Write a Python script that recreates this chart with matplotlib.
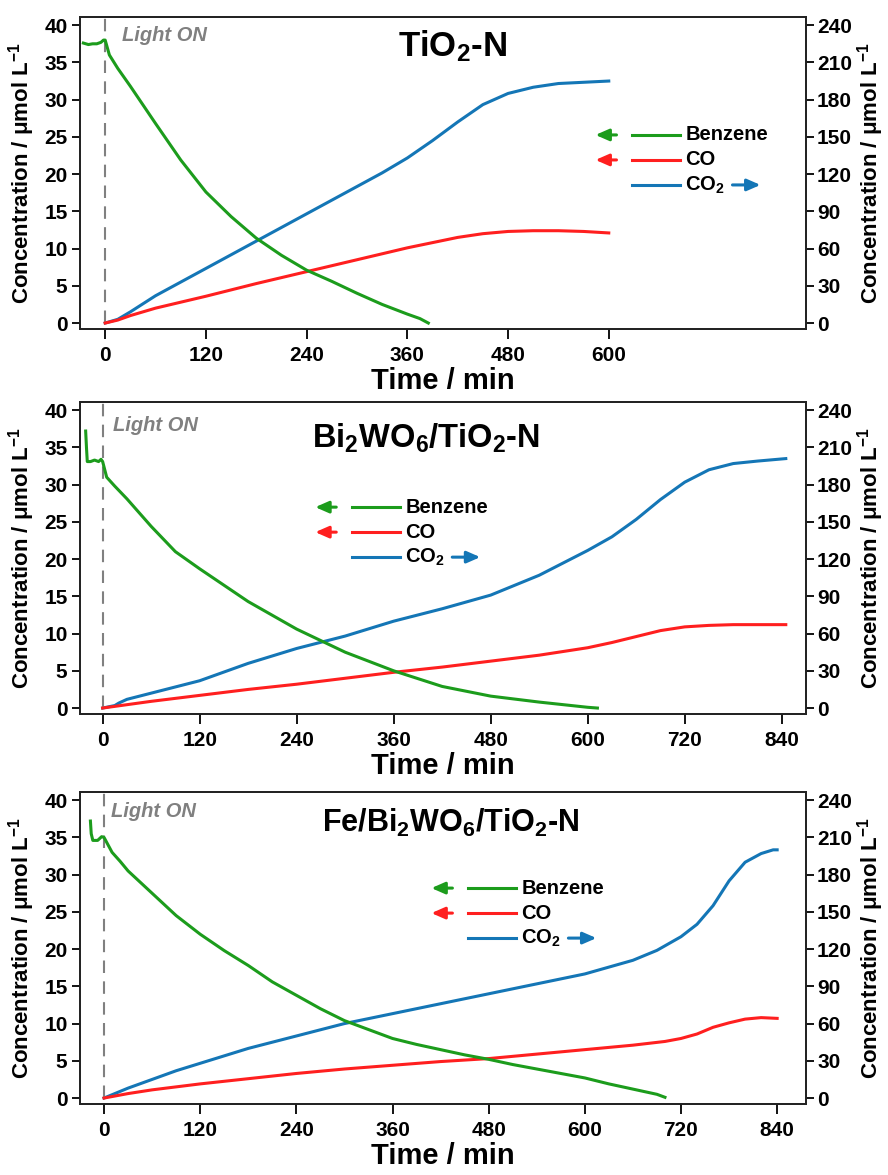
import matplotlib
matplotlib.use("Agg")
import matplotlib.pyplot as plt
import numpy as np

plt.rcParams['font.family'] = ['Liberation Sans', 'DejaVu Sans']
plt.rcParams['font.weight'] = 'bold'
plt.rcParams['mathtext.fontset'] = 'custom'
plt.rcParams['mathtext.bf'] = 'Liberation Sans:bold'
plt.rcParams['mathtext.rm'] = 'Liberation Sans:bold'
plt.rcParams['mathtext.it'] = 'Liberation Sans:bold:italic'
plt.rcParams['mathtext.default'] = 'bf'

# ---------------- data ----------------
titles = [r'TiO$_2$-N', r'Bi$_2$WO$_6$/TiO$_2$-N', r'Fe/Bi$_2$WO$_6$/TiO$_2$-N']

# Panel 1: TiO2-N
p1_benz_t = [-26, -20, -15, -10, -5, -2, 0, 5, 15, 30, 60, 90, 120, 150, 180, 210, 240, 270, 300, 330, 360, 375, 385]
p1_benz_c = [37.6, 37.4, 37.5, 37.5, 37.7, 38.0, 38.0, 36.0, 34.2, 31.8, 26.8, 21.9, 17.6, 14.3, 11.4, 9.1, 7.1, 5.6, 4.0, 2.5, 1.2, 0.6, 0.0]
p1_co_t = [0, 15, 30, 60, 90, 120, 180, 240, 300, 360, 420, 450, 480, 510, 540, 570, 600]
p1_co_c = [0.0, 0.4, 1.0, 2.0, 2.8, 3.6, 5.3, 6.9, 8.5, 10.1, 11.5, 12.0, 12.3, 12.4, 12.4, 12.3, 12.1]
p1_co2_t = [0, 15, 30, 60, 90, 120, 150, 180, 210, 240, 270, 300, 330, 360, 390, 420, 450, 480, 510, 540, 570, 600]
p1_co2_c = [0, 3, 9, 22, 33, 44, 55, 66, 77, 88, 99, 110, 121, 133, 147, 162, 176, 185, 190, 193, 194, 195]

# Panel 2: Bi2WO6/TiO2-N
p2_benz_t = [-21, -20, -19, -15, -10, -5, -2, 0, 5, 15, 30, 60, 90, 120, 180, 240, 300, 360, 420, 480, 540, 600, 612]
p2_benz_c = [37.2, 35.0, 33.1, 33.1, 33.3, 33.1, 33.4, 33.1, 31.0, 29.8, 28.1, 24.4, 21.0, 18.7, 14.3, 10.6, 7.5, 5.0, 2.9, 1.6, 0.8, 0.1, 0.0]
p2_co_t = [0, 60, 120, 180, 240, 300, 360, 420, 480, 540, 600, 630, 660, 690, 720, 750, 780, 840, 845]
p2_co_c = [0.0, 0.9, 1.7, 2.5, 3.2, 4.0, 4.8, 5.5, 6.3, 7.1, 8.1, 8.8, 9.6, 10.4, 10.9, 11.1, 11.2, 11.2, 11.2]
p2_co2_t = [0, 15, 20, 30, 60, 90, 120, 150, 180, 240, 300, 360, 420, 480, 540, 600, 630, 660, 690, 720, 750, 780, 810, 845]
p2_co2_c = [0, 2, 4, 7, 12, 17, 22, 29, 36, 48, 58, 70, 80, 91, 107, 127, 138, 152, 168, 182, 192, 197, 199, 201]

# Panel 3: Fe/Bi2WO6/TiO2-N
p3_benz_t = [-17, -16, -14, -8, -3, 0, 10, 20, 30, 60, 90, 120, 150, 180, 210, 240, 270, 300, 330, 360, 390, 420, 450, 480, 510, 540, 570, 600, 630, 660, 690, 700]
p3_benz_c = [37.2, 35.5, 34.6, 34.6, 35.1, 35.0, 33.0, 31.8, 30.5, 27.5, 24.5, 22.0, 19.8, 17.8, 15.6, 13.8, 12.0, 10.4, 9.2, 8.0, 7.2, 6.5, 5.8, 5.2, 4.5, 3.9, 3.3, 2.7, 1.9, 1.2, 0.5, 0.1]
p3_co_t = [0, 30, 60, 120, 180, 240, 300, 360, 420, 480, 540, 600, 660, 700, 720, 740, 760, 780, 800, 820, 840]
p3_co_c = [0.0, 0.6, 1.1, 1.9, 2.6, 3.3, 3.9, 4.4, 4.9, 5.3, 5.9, 6.5, 7.1, 7.6, 8.0, 8.6, 9.5, 10.1, 10.6, 10.8, 10.7]
p3_co2_t = [0, 30, 60, 90, 120, 180, 240, 300, 360, 420, 480, 540, 600, 660, 690, 720, 740, 760, 780, 800, 820, 835, 840]
p3_co2_c = [0, 8, 15, 22, 28, 40, 50, 60, 68, 76, 84, 92, 100, 111, 119, 130, 140, 155, 175, 190, 197, 200, 200]

x_ticks = [[0, 120, 240, 360, 480, 600], [0, 120, 240, 360, 480, 600, 720, 840], [0, 120, 240, 360, 480, 600, 720, 840]]
x_lims = [(-30, 835), (-28, 870), (-30, 876)]
left_ticks = [0, 5, 10, 15, 20, 25, 30, 35, 40]
right_ticks = [0, 30, 60, 90, 120, 150, 180, 210, 240]
legend_labels = ['Benzene', 'CO', r'CO$_2$']

panels = [
    (p1_benz_t, p1_benz_c, p1_co_t, p1_co_c, p1_co2_t, p1_co2_c),
    (p2_benz_t, p2_benz_c, p2_co_t, p2_co_c, p2_co2_t, p2_co2_c),
    (p3_benz_t, p3_benz_c, p3_co_t, p3_co_c, p3_co2_t, p3_co2_c),
]

# ---------------- style ----------------
GREEN = '#1c9c1c'
RED = '#ff1f1f'
BLUE = '#1476b6'
GRAY = '#808080'

W, H = 888, 1175
fig = plt.figure(figsize=(W / 100, H / 100), dpi=100)

ax_left_px, ax_right_px = 80, 806
ax_tops = [17, 402, 792]
ax_h_px = 312
title_pos = [(0.513, 0.905), (0.476, 0.885), (0.51, 0.902)]
title_size = [25, 23.5, 22]
light_pos = [(0.058, 0.942), (0.046, 0.926), (0.043, 0.936)]
legend_pos = [(0.761, 0.622), (0.375, 0.663), (0.535, 0.692)]

ylim_l = (-0.8, 41.1)
ylim_r = (ylim_l[0] * 6, ylim_l[1] * 6)

ax_w_px = ax_right_px - ax_left_px

def fx(px):
    return px / ax_w_px

def fy(px):
    return px / ax_h_px

for i, (bt, bc, ct, cc, dt, dc) in enumerate(panels):
    top = ax_tops[i]
    ax = fig.add_axes([ax_left_px / W, 1 - (top + ax_h_px) / H, ax_w_px / W, ax_h_px / H])
    ax2 = ax.twinx()
    ax.set_zorder(ax2.get_zorder() + 1)
    ax.patch.set_visible(False)

    ax.plot([0, 0], [0, ylim_l[1]], color=GRAY, lw=1.5, ls=(0, (6, 4)), zorder=1)
    ax2.plot(dt, dc, color=BLUE, lw=2.2)
    ax.plot(ct, cc, color=RED, lw=2.2, zorder=3)
    ax.plot(bt, bc, color=GREEN, lw=2.2, zorder=4)

    ax.set_xlim(*x_lims[i])
    ax.set_ylim(*ylim_l)
    ax2.set_ylim(*ylim_r)
    ax.set_xticks(x_ticks[i])
    ax.set_yticks(left_ticks)
    ax2.set_yticks(right_ticks)

    for a in (ax, ax2):
        for s in a.spines.values():
            s.set_linewidth(1.3)
            s.set_color('#222222')
        a.tick_params(direction='out', length=6, width=1.3, labelsize=15, pad=3)
    ax2.tick_params(axis='y', pad=2)
    ax.tick_params(axis='x', length=7, pad=5)
    for lab in ax.get_xticklabels() + ax.get_yticklabels() + ax2.get_yticklabels():
        lab.set_fontweight('bold')

    ax.set_xlabel('Time / min', fontsize=21, fontweight='bold', labelpad=2)
    ylab = r'Concentration / μmol L$^{-1}$'
    ax.set_ylabel(ylab, fontsize=16, fontweight='bold', labelpad=5)
    ax2.set_ylabel(ylab, fontsize=16, fontweight='bold', labelpad=2, rotation=90)

    ax.text(title_pos[i][0], title_pos[i][1], titles[i], transform=ax.transAxes,
            fontsize=title_size[i], fontweight='bold', ha='center', va='center')
    ax.text(light_pos[i][0], light_pos[i][1], 'Light ON', transform=ax.transAxes,
            fontsize=14.5, fontweight='bold', style='italic', color=GRAY, ha='left', va='center')

    # custom legend
    lx, ly = legend_pos[i]
    colors = [GREEN, RED, BLUE]
    for k, (lab, col) in enumerate(zip(legend_labels, colors)):
        yy = ly - k * fy(25)
        ax.plot([lx, lx + fx(48)], [yy, yy], transform=ax.transAxes, color=col, lw=2.2, clip_on=False)
        ax.text(lx + fx(53), yy, lab, transform=ax.transAxes, fontsize=14.5, fontweight='bold',
                ha='left', va='center')
        if k < 2:
            ax.annotate('', xy=(lx - fx(37), yy), xytext=(lx - fx(16), yy),
                        xycoords='axes fraction', textcoords='axes fraction',
                        arrowprops=dict(arrowstyle='-|>,head_length=0.8,head_width=0.35', color=col, lw=2.2,
                                        shrinkA=0, shrinkB=0))
        else:
            ax.annotate('', xy=(lx + fx(128), yy), xytext=(lx + fx(100), yy),
                        xycoords='axes fraction', textcoords='axes fraction',
                        arrowprops=dict(arrowstyle='-|>,head_length=0.8,head_width=0.35', color=col, lw=2.2,
                                        shrinkA=0, shrinkB=0))

fig.savefig('out.png', dpi=100)
